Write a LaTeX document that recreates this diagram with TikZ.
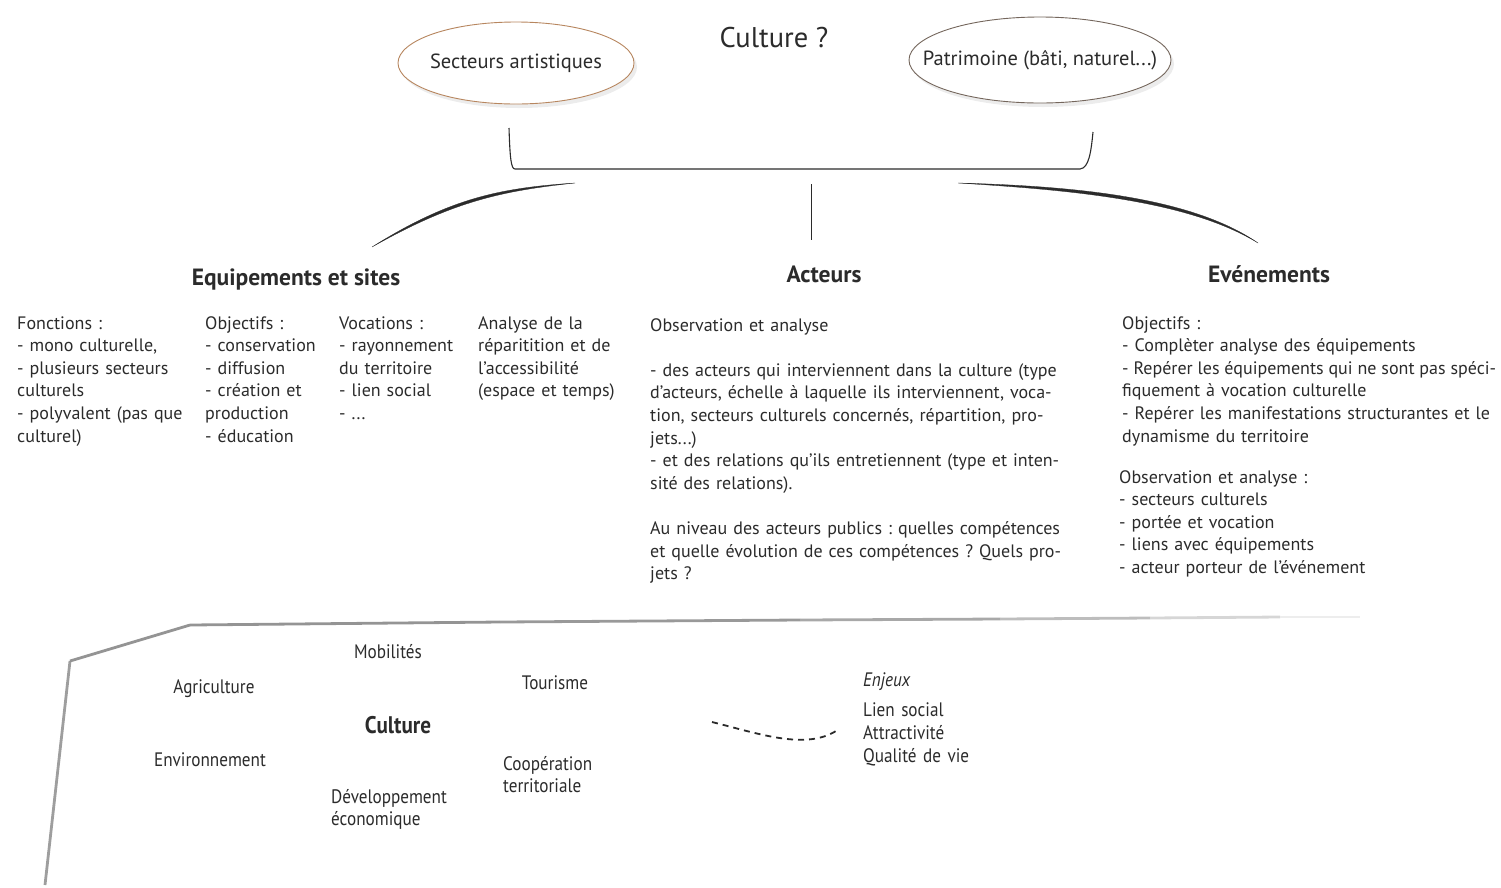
\documentclass[tikz,border=0pt]{standalone}
\usepackage{fontspec}
\setmainfont{PT Sans}
\newfontfamily\condfont[FakeStretch=0.88]{PT Sans}
\usetikzlibrary{positioning}
\usetikzlibrary{shapes.geometric}
\usetikzlibrary{shadows}

\definecolor{rimorange}{HTML}{B7865F}
\definecolor{rimbrown}{HTML}{74665C}
\definecolor{inkgray}{HTML}{2B2B2B}

\frenchspacing
\newcommand{\jline}[1]{\makebox[\hsize][s]{#1}}
\newcommand{\tightline}[1]{{\spaceskip=0.19em plus 0.1em minus 0.05em\makebox[\hsize][s]{#1}}}

\tikzset{
	bubble/.style={ellipse, draw, line width=0.9pt, fill=white, inner xsep=-30pt, inner ysep=0pt,
		font=\fontsize{20.5}{24}\selectfont,
		drop shadow={opacity=0.15, shadow xshift=3pt, shadow yshift=-4pt}},
	heading/.style={anchor=base, inner sep=0pt, font=\fontsize{23.5}{28}\selectfont\bfseries},
	bodytext/.style={anchor=base west, inner sep=0pt, align=left,
		font=\fontsize{18}{22.6}\selectfont},
	themetext/.style={anchor=base, inner sep=0pt, align=left,
		font=\condfont\fontsize{19.5}{22}\selectfont},
	swoosh/.style={fill=inkgray, draw=inkgray, line width=0.3pt},
}

\begin{document}
\begin{tikzpicture}[x=1pt, y=-1pt, inkgray]
				\useasboundingbox (0,0) rectangle (1501,887);

				\node[anchor=base, inner sep=0pt, font=\fontsize{28.5}{32}\selectfont] (question) at (774,47) {Culture ?};
				\node[bubble, draw=rimorange, minimum width=236pt, minimum height=82pt] (artistic) at (516,63) {Secteurs artistiques};
				\node[bubble, draw=rimbrown, minimum width=262pt, minimum height=86pt] (heritage) at (1040,60) {Patrimoine (bâti, naturel...)};

				\coordinate (brLtop) at (509,128);
				\coordinate (brLbot) at (515,169);
				\coordinate (brRbot) at (1080,169);
				\coordinate (brRtop) at (1093,132);
				\draw[line width=1.1pt] (brLtop) .. controls (510,158) and (511,169) .. (brLbot) to (brRbot)
					.. controls (1089,168) and (1091,152) .. (brRtop);

				\coordinate (stemtop) at (811,184);
				\coordinate (stembot) at (811,240);
				\draw[line width=0.8pt] (stemtop) to (stembot);

				\coordinate (swLend) at (372,247);
				\coordinate (swLtip) at (575,183);
				\coordinate (swRtip) at (958,183);
				\coordinate (swRend) at (1258,243);
				\filldraw[swoosh] (swLend) .. controls (450,198) and (500,188) .. (swLtip)
					.. controls (500,191) and (452,202) .. (swLend);
				\filldraw[swoosh] (swRtip) .. controls (1070,186) and (1190,196) .. (swRend)
					.. controls (1188,200) and (1070,190) .. (swRtip);

				\node[heading] (equip) at (296,285) {Equipements et sites};
				\node[heading] (actors) at (824,282) {Acteurs};
				\node[heading] (events) at (1269,282) {Evénements};

				\node[bodytext, text width=185pt] (functions) at (17,329) {Fonctions :\\- mono culturelle,\\- plusieurs secteurs\\culturels\\- polyvalent (pas que\\culturel)};
				\node[bodytext, text width=130pt] (aims) at (205,329) {Objectifs :\\- conservation\\- diffusion\\- création et\\production\\- éducation};
				\node[bodytext, text width=135pt] (vocations) at (339,329) {Vocations :\\- rayonnement\\du territoire\\- lien social\\- ...};
				\node[bodytext, text width=150pt] (spread) at (478,329) {Analyse de la\\réparitition et de\\l’accessibilité\\(espace et temps)};

				\node[bodytext, text width=415pt] (actorstext) at (650,331) {Observation et analyse\\[22.6pt]
					\jline{- des acteurs qui interviennent dans la culture (type}\\
					\jline{d’acteurs, échelle à laquelle ils interviennent, voca-}\\
					\jline{tion, secteurs culturels concernés, répartition, pro-}\\
					jets...)\\
					\jline{- et des relations qu’ils entretiennent (type et inten-}\\
					sité des relations).\\[22.6pt]
					\jline{Au niveau des acteurs publics : quelles compétences}\\
					\jline{et quelle évolution de ces compétences ? Quels pro-}\\
					jets ?};

				\node[bodytext, text width=374pt] (eventaims) at (1122,329) {Objectifs :\\- Complèter analyse des équipements\\\tightline{- Repérer les équipements qui ne sont pas spéci-}\\fiquement à vocation culturelle\\- Repérer les manifestations structurantes et le\\dynamisme du territoire};
				\node[bodytext, text width=300pt] (eventobs) at (1119,483) {Observation et analyse :\\- secteurs culturels\\- portée et vocation\\- liens avec équipements\\- acteur porteur de l’événement};

				\foreach \xa/\ya/\xb/\yb/\shade in {45/885/70/661/38, 70/661/190/625/42, 190/625/500/622/42,
					500/622/800/620/40, 800/620/1000/619/34, 1000/619/1150/618/26, 1150/618/1280/617/16, 1280/617/1360/617/7}
					\draw[black!\shade, line width=2.8pt, line join=round] (\xa,\ya) to (\xb,\yb);

				\node[themetext] (mobility) at (388,658) {Mobilités};
				\node[themetext] (farming) at (214,693) {Agriculture};
				\node[themetext] (tourism) at (555,689) {Tourisme};
				\node[anchor=base, inner sep=0pt, font=\condfont\fontsize{24}{28}\selectfont\bfseries] (culture) at (398,733) {Culture};
				\node[themetext] (environment) at (210,766) {Environnement};
				\node[themetext, anchor=base west, text width=150pt] (cooperation) at (503,770) {Coopération\\territoriale};
				\node[themetext, anchor=base west, text width=150pt] (economy) at (331,803) {Développement\\économique};

				\coordinate (dashstart) at (712,722);
				\coordinate (dashend) at (836,731);
				\draw[line width=1.8pt, dash pattern=on 6pt off 5pt] (dashstart) .. controls (760,734) and (805,750) .. (dashend);

				\node[themetext, anchor=base west, font=\condfont\fontsize{19.5}{22}\selectfont\itshape] (stakes) at (863,686) {Enjeux};
				\node[themetext, anchor=base west, text width=150pt, font=\condfont\fontsize{19.5}{23.3}\selectfont] (stakelist) at (863,716) {Lien social\\Attractivité\\Qualité de vie};
			\end{tikzpicture}
\end{document}
